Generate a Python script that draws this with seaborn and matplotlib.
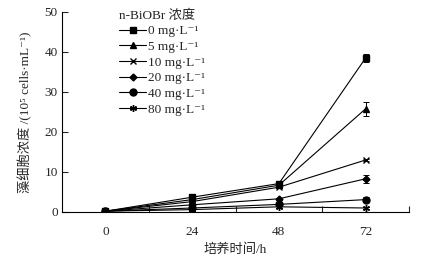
import matplotlib
matplotlib.use("Agg")
import matplotlib.pyplot as plt
import seaborn as sns
import pandas as pd
from matplotlib.ticker import FixedLocator

sns.set_style("ticks")
plt.rcParams['font.family'] = ['Liberation Serif', 'DejaVu Serif', 'Noto Sans CJK SC']
plt.rcParams['font.size'] = 9

times = [0, 24, 48, 72]
labels = ["0 mg·L⁻¹", "5 mg·L⁻¹", "10 mg·L⁻¹",
          "20 mg·L⁻¹", "40 mg·L⁻¹", "80 mg·L⁻¹"]
c0 = [0.2, 3.7, 7.1, 38.5]
c5 = [0.2, 3.1, 6.7, 25.8]
c10 = [0.2, 2.6, 6.2, 13.0]
c20 = [0.2, 1.8, 3.3, 8.3]
c40 = [0.2, 1.0, 1.9, 3.1]
c80 = [0.2, 0.6, 1.3, 1.0]
e0 = [0.2, 0.4, 0.6, 1.1]
e5 = [0.1, 0.3, 0.4, 1.8]
e10 = [0.1, 0.2, 0.3, 0.3]
e20 = [0.1, 0.2, 0.2, 1.0]
e40 = [0.1, 0.1, 0.3, 0.6]
e80 = [0.1, 0.1, 0.2, 0.3]
series = [c0, c5, c10, c20, c40, c80]
errors = [e0, e5, e10, e20, e40, e80]
markers = ['s', '^', 'x', 'D', 'o', (6, 2, 0)]
msizes = [5, 5, 4.5, 3.5, 5, 5]

rows = []
for lab, vals in zip(labels, series):
    for t, v in zip(times, vals):
        rows.append({"time": t, "conc": lab, "value": v})
df = pd.DataFrame(rows)

fig = plt.figure(figsize=(4.26, 2.64), dpi=100)
ax = fig.add_axes([62/426, 1-212/264, (409-62)/426, 200/264])

for lab, vals, errs, m, ms in zip(labels, series, errors, markers, msizes):
    sub = df[df["conc"] == lab]
    sns.lineplot(data=sub, x="time", y="value", ax=ax, color='black',
                 lw=0.8, marker=m, markersize=ms, markeredgecolor='black',
                 markeredgewidth=1.0, label=lab, errorbar=None)
    ax.errorbar(times, vals, yerr=errs, fmt='none', ecolor='black',
                elinewidth=0.7, capsize=2.5, capthick=0.7)

ax.set_xlim(-12, 84)
ax.set_ylim(0, 50)
ax.set_xticks(times)
ax.xaxis.set_minor_locator(FixedLocator([12, 36, 60, 84]))
ax.tick_params(axis='x', which='major', length=0, pad=10, labelsize=9.5)
ax.tick_params(axis='x', which='minor', direction='in', length=4, width=0.8)
ax.set_yticks([0, 10, 20, 30, 40, 50])
ax.tick_params(axis='y', direction='in', length=4, width=0.8, labelsize=9.5, pad=3)
sns.despine(ax=ax)
for s in ['left', 'bottom']:
    ax.spines[s].set_linewidth(0.8)
    ax.spines[s].set_color('black')

ax.set_xlabel("培养时间/h", fontsize=9.5, labelpad=4)
ax.set_ylabel("藻细胞浓度 /(10⁵ cells·mL⁻¹)", fontsize=9.5, labelpad=9)

leg = ax.legend(loc='upper left', bbox_to_anchor=(0.15, 1.04), frameon=False,
                title="n-BiOBr 浓度", fontsize=9.5, title_fontsize=9.5,
                handlelength=2.0, handletextpad=0.2, labelspacing=0.26,
                borderaxespad=0, alignment='left')

fig.savefig("out.png", dpi=100)
